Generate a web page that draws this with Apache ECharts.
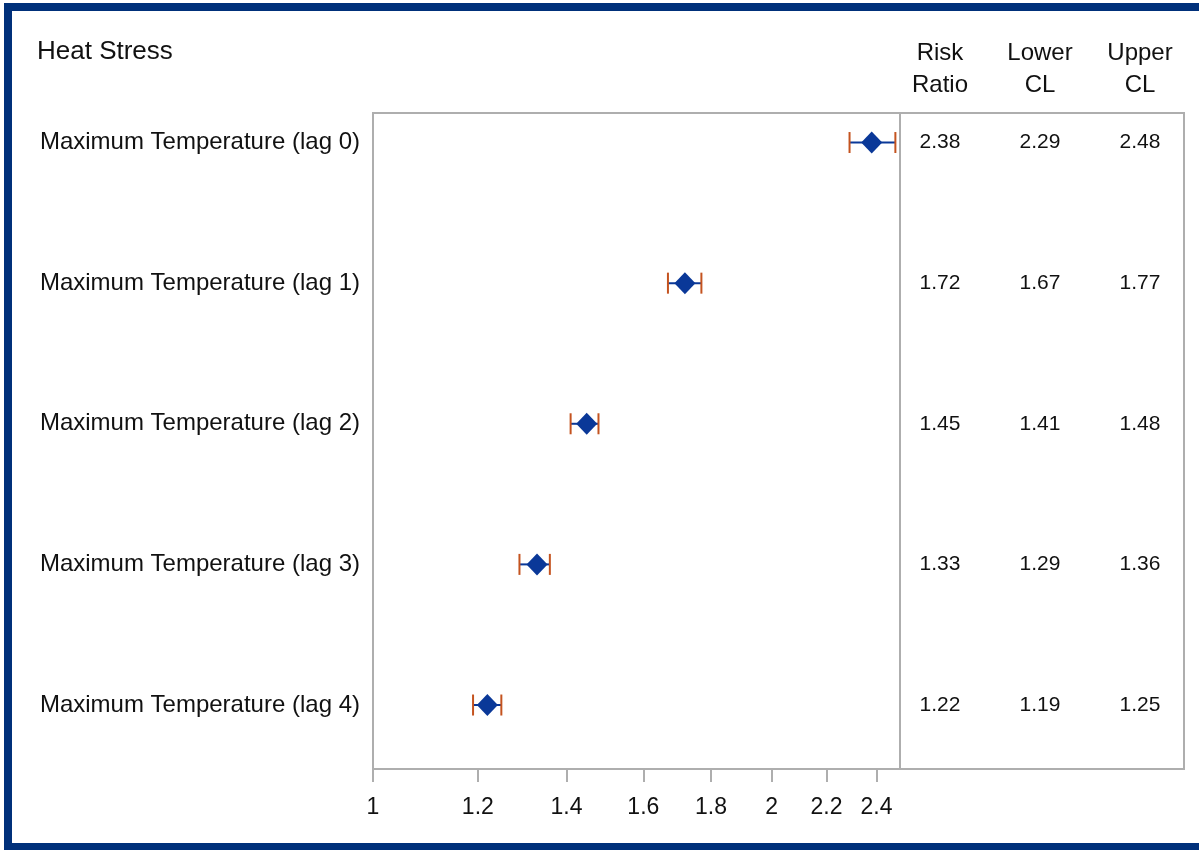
<!DOCTYPE html>
<html>
<head>
<meta charset="utf-8">
<title>Heat Stress</title>
<script src="https://cdn.jsdelivr.net/npm/echarts@6/dist/echarts.min.js"></script>
<style>
  html, body { margin: 0; padding: 0; background: #ffffff; }
  #chart { width: 1199px; height: 850px; }
</style>
</head>
<body>
<div id="chart"></div>
<script>
// Rows of the forest plot, top to bottom
const rowLabels = [
  'Maximum Temperature (lag 0)',
  'Maximum Temperature (lag 1)',
  'Maximum Temperature (lag 2)',
  'Maximum Temperature (lag 3)',
  'Maximum Temperature (lag 4)'
];
const riskRatio = [2.38, 1.72, 1.45, 1.33, 1.22];
const lowerCL   = [2.29, 1.67, 1.41, 1.29, 1.19];
const upperCL   = [2.48, 1.77, 1.48, 1.36, 1.25];

// Log-scale axis ticks
const xTicks = [1, 1.2, 1.4, 1.6, 1.8, 2, 2.2, 2.4];

// Table columns on the right
const tableHeaders = ['Risk\nRatio', 'Lower\nCL', 'Upper\nCL'];
const tableColumns = [riskRatio, lowerCL, upperCL];

const FONT = '"Liberation Sans", Arial, sans-serif';
const GRID_LINE = '#aeaeae';
const MARK_BLUE = '#0a3898';
const CAP_COLOR = '#c4531f';
const TEXT = '#111111';

const rowIdx = rowLabels.map((_, i) => i);

const diamondData = riskRatio.map((v, i) => [v, i]);
const ciData = rowIdx.map(i => [lowerCL[i], upperCL[i], i]);
const tableData = [];
tableColumns.forEach((col, c) => {
  col.forEach((v, r) => tableData.push([c, r, v]));
});

const yRange = { min: -0.21, max: 4.455 };

const chart = echarts.init(document.getElementById('chart'), null, { renderer: 'canvas' });

chart.setOption({
  backgroundColor: '#ffffff',
  animation: false,
  textStyle: { fontFamily: FONT },
  title: {
    text: 'Heat Stress',
    left: 37,
    top: 39,
    padding: 0,
    textStyle: { fontFamily: FONT, fontSize: 26, fontWeight: 'normal', color: TEXT }
  },
  graphic: [{
    type: 'rect',
    z: 100,
    shape: { x: 8, y: 7, width: 1200, height: 840 },
    style: { fill: null, stroke: '#00307a', lineWidth: 8 }
  }],
  grid: [
    { left: 373, right: 299, top: 113, bottom: 81, show: true, borderColor: GRID_LINE, borderWidth: 2, backgroundColor: 'transparent' },
    { left: 900, right: 15, top: 113, bottom: 81, show: true, borderColor: GRID_LINE, borderWidth: 2, backgroundColor: 'transparent' }
  ],
  xAxis: [
    {
      gridIndex: 0,
      type: 'log',
      logBase: 10,
      min: 1,
      max: 2.5,
      position: 'bottom',
      axisLine: { show: true, onZero: false, lineStyle: { color: GRID_LINE, width: 2 } },
      axisTick: { show: true, length: 13, customValues: xTicks, lineStyle: { color: GRID_LINE, width: 2 } },
      axisLabel: {
        customValues: xTicks,
        margin: 27,
        fontSize: 23,
        color: TEXT,
        fontFamily: FONT,
        formatter: v => String(+(+v).toFixed(2))
      },
      splitLine: { show: false },
      minorTick: { show: false }
    },
    {
      gridIndex: 1,
      type: 'value',
      position: 'top',
      min: -0.4,
      max: 2.44,
      axisLine: { show: false, onZero: false },
      axisTick: { show: false },
      splitLine: { show: false },
      axisLabel: {
        customValues: [0, 1, 2],
        margin: 12,
        fontSize: 24,
        lineHeight: 32,
        color: TEXT,
        fontFamily: FONT,
        align: 'center',
        formatter: v => tableHeaders[Math.round(v)] || ''
      }
    }
  ],
  yAxis: [
    {
      gridIndex: 0,
      type: 'value',
      inverse: true,
      min: yRange.min,
      max: yRange.max,
      axisLine: { show: false, onZero: false },
      axisTick: { show: false },
      splitLine: { show: false },
      axisLabel: {
        customValues: rowIdx,
        margin: 13,
        fontSize: 24,
        color: TEXT,
        fontFamily: FONT,
        formatter: v => rowLabels[Math.round(v)] || ''
      }
    },
    {
      gridIndex: 1,
      type: 'value',
      inverse: true,
      min: yRange.min,
      max: yRange.max,
      axisLine: { show: false, onZero: false },
      axisTick: { show: false },
      splitLine: { show: false },
      axisLabel: { show: false }
    }
  ],
  series: [
    {
      name: 'CI',
      type: 'custom',
      xAxisIndex: 0,
      yAxisIndex: 0,
      encode: { x: [0, 1], y: 2 },
      data: ciData,
      z: 2,
      renderItem: (params, api) => {
        const lo = api.coord([api.value(0), api.value(2)]);
        const hi = api.coord([api.value(1), api.value(2)]);
        const half = 10.5;
        return {
          type: 'group',
          children: [
            { type: 'line', shape: { x1: lo[0], y1: lo[1], x2: hi[0], y2: hi[1] }, style: { stroke: MARK_BLUE, lineWidth: 2 } },
            { type: 'line', shape: { x1: lo[0], y1: lo[1] - half, x2: lo[0], y2: lo[1] + half }, style: { stroke: CAP_COLOR, lineWidth: 2 } },
            { type: 'line', shape: { x1: hi[0], y1: hi[1] - half, x2: hi[0], y2: hi[1] + half }, style: { stroke: CAP_COLOR, lineWidth: 2 } }
          ]
        };
      }
    },
    {
      name: 'Risk Ratio',
      type: 'scatter',
      xAxisIndex: 0,
      yAxisIndex: 0,
      data: diamondData,
      symbol: 'diamond',
      symbolSize: [21, 22],
      itemStyle: { color: MARK_BLUE, opacity: 1 },
      z: 3
    },
    {
      name: 'Table',
      type: 'scatter',
      xAxisIndex: 1,
      yAxisIndex: 1,
      data: tableData,
      symbolSize: 0,
      encode: { x: 0, y: 1 },
      itemStyle: { opacity: 1, color: TEXT },
      label: {
        show: true,
        position: 'inside',
        fontSize: 21,
        color: TEXT,
        opacity: 1,
        fontFamily: FONT,
        formatter: p => p.value[2].toFixed(2)
      }
    }
  ]
});
</script>
</body>
</html>
